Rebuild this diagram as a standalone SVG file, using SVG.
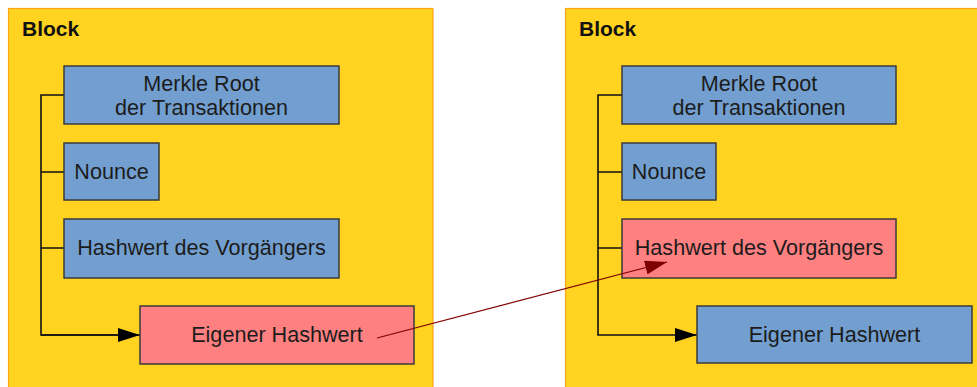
<svg xmlns="http://www.w3.org/2000/svg" width="977" height="387" viewBox="0 0 977 387">
<style>
.block{fill:#FFD320;stroke:#FFA31A;stroke-width:1.2}
.blue{fill:#729FCF;stroke:#3B3B3B;stroke-width:1.5}
.red{fill:#FF8080;stroke:#3B3B3B;stroke-width:1.5}
.t{font-family:"Liberation Sans",Arial,sans-serif;font-size:21.6px;fill:#1C1C1C;text-anchor:middle}
.h{font-family:"Liberation Sans",Arial,sans-serif;font-size:21px;font-weight:bold;fill:#111}
.c{fill:none;stroke:#111;stroke-width:1.6}
</style>
<defs>
<marker id="ab" markerWidth="22" markerHeight="14" refX="22" refY="7" orient="auto" markerUnits="userSpaceOnUse"><path d="M0,0 L22,7 L0,14 Z" fill="#000"/></marker>
<marker id="ar" markerWidth="22" markerHeight="14" refX="22" refY="7" orient="auto" markerUnits="userSpaceOnUse"><path d="M0,0 L22,7 L0,14 Z" fill="#800000"/></marker>
</defs>
<rect width="977" height="387" fill="#fff"/>
<g id="block1">
<rect class="block" x="8.5" y="8.5" width="424.5" height="400"/>
<text class="h" x="22" y="36">Block</text>
</g>
<g id="block2">
<rect class="block" x="565.5" y="8.5" width="430" height="400"/>
<text class="h" x="579" y="36">Block</text>
</g>
<g id="connectors">
<path class="c" d="M64,95 H41 V335 H118"/>
<path class="c" d="M41,172 H64 M41,248 H64"/>
<path class="c" d="M41,335 H140" marker-end="url(#ab)"/>
<path class="c" d="M622,95 H598 V335 H697" marker-end="url(#ab)"/>
<path class="c" d="M598,172 H622 M598,248 H622"/>
</g>
<g id="l-merkle"><rect class="blue" x="64" y="66" width="275" height="58"/><text class="t" x="201.5" y="90.5">Merkle Root</text><text class="t" x="201.5" y="115">der Transaktionen</text></g>
<g id="l-nounce"><rect class="blue" x="64" y="143" width="95" height="57"/><text class="t" x="111.5" y="179">Nounce</text></g>
<g id="l-prev"><rect class="blue" x="64" y="219" width="275" height="59"/><text class="t" x="201.5" y="255">Hashwert des Vorgängers</text></g>
<g id="l-own"><rect class="red" x="140" y="306" width="274" height="58"/><text class="t" x="277" y="342">Eigener Hashwert</text></g>
<g id="r-merkle"><rect class="blue" x="622" y="66" width="274" height="58"/><text class="t" x="759" y="90.5">Merkle Root</text><text class="t" x="759" y="115">der Transaktionen</text></g>
<g id="r-nounce"><rect class="blue" x="622" y="143" width="94" height="57"/><text class="t" x="669" y="179">Nounce</text></g>
<g id="r-prev"><rect class="red" x="622" y="219" width="274" height="59"/><text class="t" x="759" y="255">Hashwert des Vorgängers</text></g>
<g id="r-own"><rect class="blue" x="697" y="306" width="275" height="57"/><text class="t" x="834.5" y="342">Eigener Hashwert</text></g>
<g id="link">
<path d="M377,338 L667,262" fill="none" stroke="#800000" stroke-width="1.2" marker-end="url(#ar)"/>
</g>
</svg>
